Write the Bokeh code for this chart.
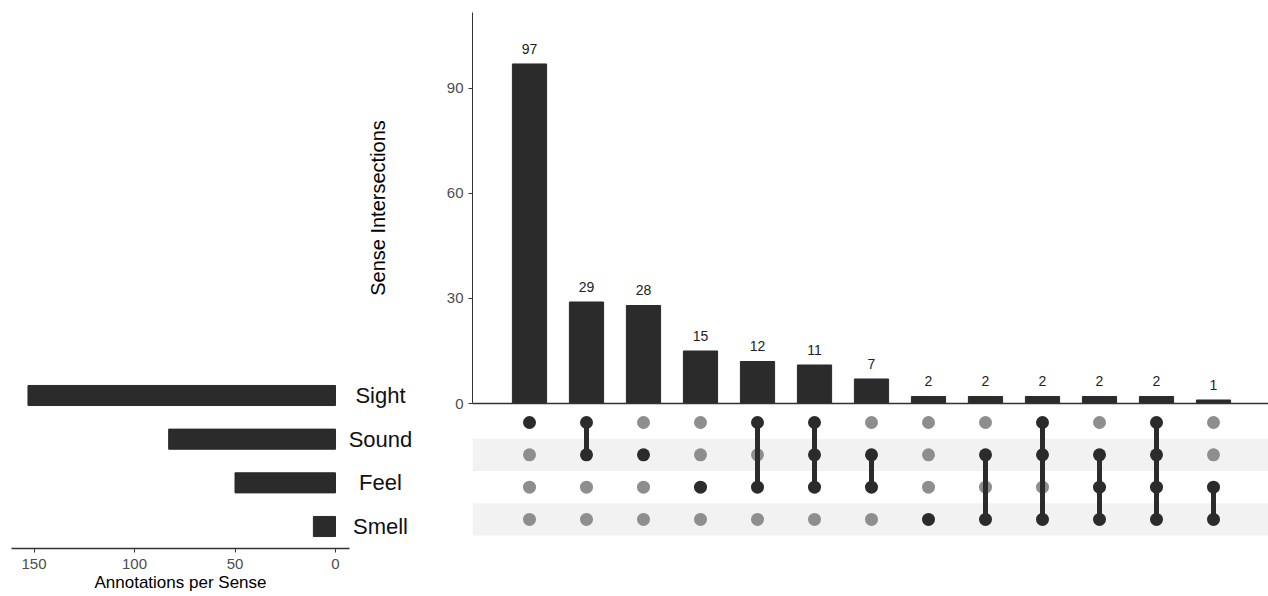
from bokeh.plotting import figure
from bokeh.models import Range1d, FixedTicker
from bokeh.layouts import column
from bokeh.embed import file_html
from bokeh.resources import INLINE
from bokeh.core.properties import value

# ---------------- data ----------------
sets = ["Sight", "Sound", "Feel", "Smell"]
set_sizes = [153, 83, 50, 11]
intersection_counts = [97, 29, 28, 15, 12, 11, 7, 2, 2, 2, 2, 2, 1]
intersection_members = [
    ["Sight"],
    ["Sight", "Sound"],
    ["Sound"],
    ["Feel"],
    ["Sight", "Feel"],
    ["Sight", "Sound", "Feel"],
    ["Sound", "Feel"],
    ["Smell"],
    ["Sound", "Smell"],
    ["Sight", "Sound", "Smell"],
    ["Sound", "Feel", "Smell"],
    ["Sight", "Sound", "Feel", "Smell"],
    ["Feel", "Smell"],
]
top_ticks = [0, 30, 60, 90]
left_ticks = [0, 50, 100, 150]

# ---------------- style / layout constants ----------------
W, H = 1268, 596
FONT = "Liberation Sans"
DARK = "#2b2b2b"
GREY = "#8e8e8e"
BAND = "#f2f2f2"
AXIS = "#333333"
TICKLAB = "#4d4d4d"
COL_PX = 57.0          # pixels per intersection column
ROW_PX = 32.3          # pixels per matrix row
LROW_PX = 43.67        # pixels per set-size row

n_cols = len(intersection_counts)
cols = list(range(1, n_cols + 1))
row_y = {s: len(sets) - i for i, s in enumerate(sets)}


def make_fig(x_range, y_range, left, right, top, bottom, **kw):
    p = figure(width=W, height=H, x_range=x_range, y_range=y_range,
               output_backend="svg", toolbar_location=None,
               min_border_left=left, min_border_right=right,
               min_border_top=top, min_border_bottom=bottom,
               background_fill_alpha=0, border_fill_alpha=0,
               outline_line_color=None, **kw)
    p.grid.visible = False
    p.frame_align = False
    return p


# ---------------- top bar chart ----------------
FRAME_L = 472
col_x_range = Range1d(0, (W - FRAME_L) / COL_PX)
p_top = make_fig(col_x_range, Range1d(0, 111.7), FRAME_L, 0, 12, H - 403)
p_top.vbar(x=cols, top=intersection_counts, width=0.6, color=DARK)
p_top.text(x=cols, y=intersection_counts, text=[str(c) for c in intersection_counts],
           text_align="center", text_baseline="bottom", y_offset=-10,
           text_font=value(FONT), text_font_size="14px", text_color="#222222")
ya = p_top.yaxis[0]
ya.ticker = FixedTicker(ticks=top_ticks)
ya.minor_tick_line_color = None
ya.major_tick_out = 4
ya.major_tick_in = 0
ya.axis_line_color = AXIS
ya.major_tick_line_color = AXIS
ya.major_label_text_font = FONT
ya.major_label_text_font_size = "15px"
ya.major_label_text_color = TICKLAB
ya.axis_label = "Sense Intersections"
ya.axis_label_text_font = FONT
ya.axis_label_text_font_size = "20px"
ya.axis_label_text_font_style = "normal"
ya.axis_label_text_color = "#000000"
ya.axis_label_standoff = 55
xa = p_top.xaxis[0]
xa.ticker = FixedTicker(ticks=[])
xa.minor_tick_line_color = None
xa.axis_line_color = AXIS
xa.axis_line_width = 1.5
xa.major_label_text_font_size = "0px"

# ---------------- matrix ----------------
MAT_TOP = 405
SIGHT_Y, SMELL_Y = 422, 519
mat_y_range = Range1d(1 - (H - SMELL_Y) / ROW_PX, len(sets) + (SIGHT_Y - MAT_TOP) / ROW_PX)
p_mat = make_fig(col_x_range, mat_y_range, FRAME_L, 0, MAT_TOP, 0,
                 x_axis_type=None, y_axis_type=None)
band_rows = [row_y[s] for i, s in enumerate(sets) if i % 2 == 1]
p_mat.hbar(y=band_rows, left=0, right=n_cols + 2, height=1.0,
           color=BAND, line_color=None)
gx, gy, dx, dy = [], [], [], []
sx, sy0, sy1 = [], [], []
for c, members in zip(cols, intersection_members):
    for s in sets:
        if s in members:
            dx.append(c); dy.append(row_y[s])
        else:
            gx.append(c); gy.append(row_y[s])
    if len(members) > 1:
        ys = [row_y[s] for s in members]
        sx.append(c); sy0.append(min(ys)); sy1.append(max(ys))
p_mat.scatter(x=gx, y=gy, size=13, color=GREY, line_color=None)
p_mat.segment(x0=sx, y0=sy0, x1=sx, y1=sy1, line_width=5, color=DARK)
p_mat.scatter(x=dx, y=dy, size=13, color=DARK, line_color=None)

# ---------------- left set-size chart ----------------
L_TOP, L_AXIS = 370, 548
L_SIGHT, L_SMELL = 395, 526
left_y_range = Range1d(1 - (L_AXIS - L_SMELL) / LROW_PX,
                       len(sets) + (L_SIGHT - L_TOP) / LROW_PX)
ZERO_X, PX_PER_UNIT = 335, 2.01
LF_L, LF_R = 11, 349
left_x_range = Range1d((ZERO_X - LF_L) / PX_PER_UNIT, (ZERO_X - LF_R) / PX_PER_UNIT)
p_left = make_fig(left_x_range, left_y_range, LF_L, W - LF_R, L_TOP, H - L_AXIS,
                  y_axis_type=None)
p_left.hbar(y=[row_y[s] for s in sets], left=0, right=set_sizes,
            height=0.46, color=DARK)
la = p_left.xaxis[0]
la.ticker = FixedTicker(ticks=left_ticks)
la.minor_tick_line_color = None
la.major_tick_out = 4
la.major_tick_in = 0
la.axis_line_color = AXIS
la.axis_line_width = 1.5
la.major_tick_line_color = AXIS
la.major_label_standoff = 6
la.major_label_text_font = FONT
la.major_label_text_font_size = "15px"
la.major_label_text_color = TICKLAB
la.axis_label = "Annotations per Sense"
la.axis_label_standoff = 1
la.axis_label_text_font = FONT
la.axis_label_text_font_size = "17px"
la.axis_label_text_font_style = "normal"
la.axis_label_text_color = "#000000"

# ---------------- set labels ----------------
LB_L, LB_R = 340, 440
p_lab = make_fig(Range1d(0, 1), left_y_range, LB_L, W - LB_R, L_TOP, H - L_AXIS,
                 x_axis_type=None, y_axis_type=None)
p_lab.text(x=[0.4] * len(sets), y=[row_y[s] for s in sets], text=sets,
           text_align="center", text_baseline="middle",
           text_font=value(FONT), text_font_size="22px", text_color="#111111")

# stack the four full-size, transparent figures on top of each other
for p in (p_top, p_left, p_lab):
    p.margin = (-H, 0, 0, 0)
p_mat.margin = (0, 0, 0, 0)

layout = column(p_mat, p_top, p_left, p_lab, width=W, height=H)

open("out.html", "w").write(file_html(layout, INLINE))
